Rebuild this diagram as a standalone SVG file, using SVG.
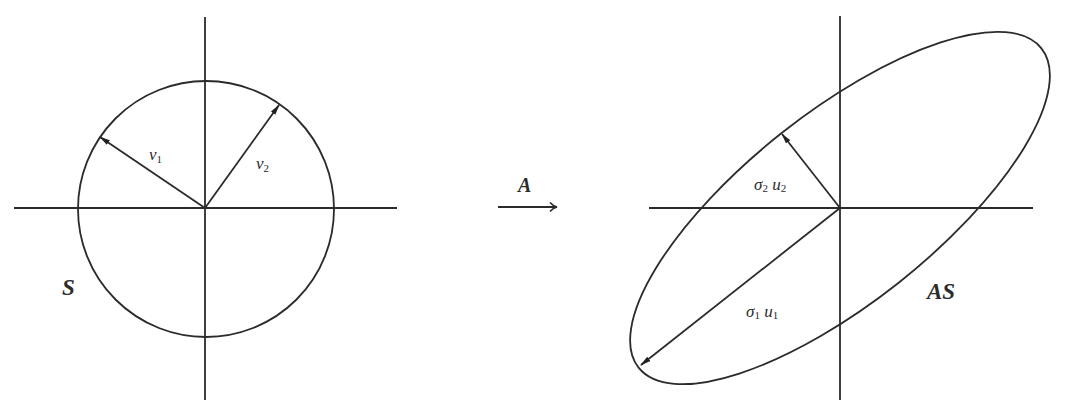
<svg xmlns="http://www.w3.org/2000/svg" width="1073" height="407" viewBox="0 0 1073 407">
<defs>
<marker id="ah" markerWidth="11" markerHeight="7" refX="10" refY="3.5" orient="auto" markerUnits="userSpaceOnUse">
<path d="M0,0.8 L11,3.5 L0,6.2 Z" fill="#222"/>
</marker>
<marker id="open" markerWidth="12" markerHeight="12" refX="10" refY="6" orient="auto" markerUnits="userSpaceOnUse">
<path d="M3,1.5 Q6,5 10,6 Q6,7 3,10.5" fill="none" stroke="#2b2b2b" stroke-width="1.7"/>
</marker>
<style>
.ln{stroke:#2b2b2b;stroke-width:1.8;fill:none}
.t{font-family:"Liberation Serif","DejaVu Serif",serif;font-style:italic;fill:#2b2b2b}
.big{font-size:23px;font-weight:bold}
.sm{font-size:17px}
.sub{font-size:11px;font-style:normal}
</style>
</defs>
<rect width="1073" height="407" fill="#fff"/>
<g id="left">
<line class="ln" x1="205" y1="17" x2="205" y2="400"/>
<line class="ln" x1="14" y1="208" x2="397" y2="208"/>
<circle class="ln" cx="206" cy="209" r="128"/>
<line class="ln" x1="205" y1="208" x2="100" y2="137" marker-end="url(#ah)"/>
<line class="ln" x1="205" y1="208" x2="279" y2="105" marker-end="url(#ah)"/>
<text class="t sm" x="149" y="160">v<tspan class="sub" dy="3">1</tspan></text>
<text class="t sm" x="256" y="169">v<tspan class="sub" dy="3">2</tspan></text>
<text class="t big" x="62" y="295">S</text>
</g>
<g id="map">
<line class="ln" x1="498" y1="207" x2="557" y2="207" marker-end="url(#open)"/>
<text class="t big" x="518" y="192" style="font-size:20px">A</text>
</g>
<g id="right">
<line class="ln" x1="840" y1="16" x2="840" y2="400"/>
<line class="ln" x1="649" y1="208" x2="1033" y2="208"/>
<ellipse class="ln" cx="840" cy="208" rx="257" ry="95" transform="rotate(-38.4 840 208)"/>
<line class="ln" x1="840" y1="208" x2="641" y2="365" marker-end="url(#ah)"/>
<line class="ln" x1="840" y1="208" x2="782" y2="134" marker-end="url(#ah)"/>
<text class="t sm" x="754" y="190">σ<tspan class="sub" dy="2">2</tspan><tspan dy="-2"> u</tspan><tspan class="sub" dy="2">2</tspan></text>
<text class="t sm" x="746" y="317">σ<tspan class="sub" dy="2">1</tspan><tspan dy="-2"> u</tspan><tspan class="sub" dy="2">1</tspan></text>
<text class="t big" x="927" y="299">AS</text>
</g>
</svg>
